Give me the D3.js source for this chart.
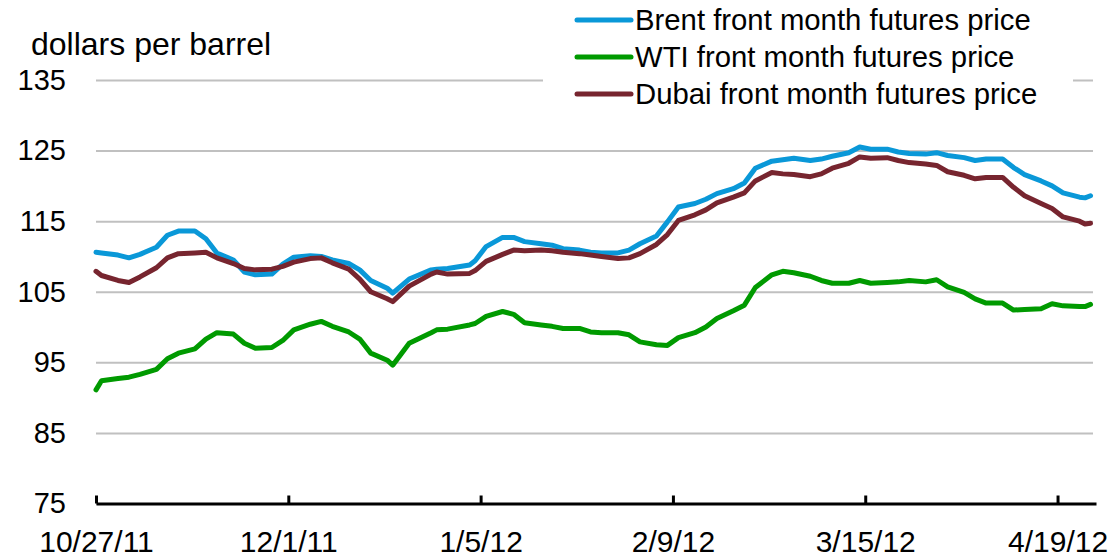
<!DOCTYPE html>
<html>
<head>
<meta charset="utf-8">
<script src="https://cdn.jsdelivr.net/npm/d3@7"></script>
<style>
  body { margin: 0; background: #fff; }
  svg { display: block; font-family: "Liberation Sans", Arial, sans-serif; }
</style>
</head>
<body>
<div id="chart"></div>
<script>
// dates of the readings (m/d/yy)
var dates = ["10/27/11","10/28/11","10/31/11","11/2/11","11/4/11","11/7/11","11/9/11","11/11/11","11/14/11","11/16/11",
  "11/18/11","11/21/11","11/23/11","11/25/11","11/28/11","11/30/11","12/2/11","12/5/11","12/7/11","12/9/11",
  "12/12/11","12/14/11","12/16/11","12/19/11","12/20/11","12/23/11","12/27/11","12/28/11","12/30/11","1/3/12",
  "1/4/12","1/6/12","1/9/12","1/11/12","1/13/12","1/16/12","1/18/12","1/20/12","1/23/12","1/25/12",
  "1/27/12","1/30/12","2/1/12","2/3/12","2/6/12","2/8/12","2/10/12","2/13/12","2/15/12","2/17/12",
  "2/20/12","2/22/12","2/24/12","2/27/12","2/29/12","3/2/12","3/5/12","3/7/12","3/9/12","3/12/12",
  "3/14/12","3/16/12","3/19/12","3/21/12","3/23/12","3/26/12","3/28/12","3/30/12","4/2/12","4/4/12",
  "4/6/12","4/9/12","4/11/12","4/13/12","4/16/12","4/18/12","4/20/12","4/23/12","4/24/12","4/25/12"];

var brent = [110.6,110.5,110.2,109.8,110.3,111.3,113.0,113.6,113.6,112.5,
  110.5,109.5,107.8,107.4,107.5,108.9,109.9,110.1,110.0,109.5,
  109.0,108.1,106.6,105.5,104.8,106.8,108.1,108.2,108.3,108.8,
  109.4,111.4,112.7,112.7,112.1,111.8,111.6,111.1,110.9,110.6,
  110.5,110.5,110.9,111.8,112.9,114.9,117.0,117.5,118.1,118.9,
  119.6,120.4,122.5,123.5,123.7,123.9,123.6,123.8,124.2,124.7,
  125.5,125.2,125.2,124.8,124.6,124.5,124.7,124.3,124.0,123.6,
  123.8,123.8,122.6,121.6,120.7,120.0,119.0,118.4,118.3,118.6];

var wti = [91.1,92.4,92.7,92.9,93.3,94.0,95.5,96.3,96.9,98.3,
  99.2,99.0,97.7,97.0,97.1,98.1,99.6,100.4,100.8,100.1,
  99.3,98.3,96.3,95.3,94.6,97.7,99.2,99.6,99.7,100.3,
  100.5,101.5,102.2,101.8,100.6,100.3,100.1,99.8,99.8,99.3,
  99.2,99.2,98.9,97.9,97.5,97.4,98.5,99.2,100.0,101.2,
  102.3,103.1,105.6,107.4,107.9,107.7,107.2,106.6,106.2,106.2,
  106.6,106.2,106.3,106.4,106.6,106.4,106.7,105.7,104.9,104.0,
  103.4,103.4,102.4,102.5,102.6,103.3,103.0,102.9,102.9,103.2];

var dubai = [107.9,107.3,106.6,106.3,107.1,108.4,109.8,110.4,110.5,110.6,
  109.8,109.0,108.3,108.1,108.2,108.6,109.2,109.7,109.8,109.1,
  108.2,106.8,105.0,104.0,103.6,105.8,107.5,107.8,107.5,107.6,
  108.0,109.3,110.3,110.9,110.8,110.9,110.8,110.6,110.4,110.2,
  110.0,109.7,109.8,110.4,111.7,113.1,115.1,115.9,116.6,117.6,
  118.4,119.0,120.7,121.9,121.7,121.6,121.3,121.7,122.5,123.2,
  124.1,123.9,124.0,123.6,123.3,123.1,122.9,122.0,121.5,121.0,
  121.2,121.2,119.8,118.6,117.5,116.8,115.6,115.0,114.6,114.7];

var seriesNames = ["Brent front month futures price", "WTI front month futures price", "Dubai front month futures price"];
var seriesColors = ["#0a98d8", "#009a00", "#77252f"];
var xTickLabels = ["10/27/11", "12/1/11", "1/5/12", "2/9/12", "3/15/12", "4/19/12"];
var yTicks = [75, 85, 95, 105, 115, 125, 135];

var svgWidth = 1120;
var svgHeight = 560;

var parse = d3.utcParse("%m/%d/%y");
var fmt = d3.utcFormat("%-m/%-d/%y");

var svg = d3.select("#chart").append("svg")
  .attr("width", svgWidth)
  .attr("height", svgHeight);

// scales
var xScale = d3.scaleUtc()
  .domain([parse("10/27/11"), parse("4/26/12")])
  .range([96, 1096]);

var yScale = d3.scaleLinear()
  .domain([75, 135])
  .range([503.5, 80]);

// gridlines + y labels
var yAxis = svg.append("g")
  .attr("transform", "translate(96,0)")
  .call(d3.axisLeft(yScale).tickValues(yTicks).tickSize(-997).tickPadding(30));
yAxis.select(".domain").remove();
yAxis.selectAll("line").attr("stroke", "#c0c0c0").attr("stroke-width", 2);
yAxis.selectAll("text")
  .attr("fill", "#000")
  .style("font-size", "29px")
  .style("font-family", "'Liberation Sans', Arial, sans-serif");

// title
svg.append("text")
  .attr("x", 31)
  .attr("y", 55)
  .style("font-size", "32px")
  .text("dollars per barrel");

// legend box hides the top gridline
svg.append("rect")
  .attr("x", 543).attr("y", 0)
  .attr("width", 530).attr("height", 112)
  .attr("fill", "#fff");

// lines
var allSeries = [brent, wti, dubai];
var line = d3.line()
  .x(function(d, i) { return xScale(parse(dates[i])); })
  .y(function(d) { return yScale(d); });

allSeries.forEach(function(vals, k) {
  svg.append("path")
    .datum(vals)
    .attr("fill", "none")
    .attr("stroke", seriesColors[k])
    .attr("stroke-width", 5)
    .attr("stroke-linejoin", "round")
    .attr("stroke-linecap", "round")
    .attr("d", line);
});

// x axis
var xAxis = svg.append("g")
  .attr("transform", "translate(0," + yScale(75) + ")")
  .call(d3.axisBottom(xScale)
    .tickValues(xTickLabels.map(parse))
    .tickFormat(fmt)
    .tickSize(-8)
    .tickSizeOuter(0)
    .tickPadding(27));
xAxis.select(".domain").attr("stroke", "#000").attr("stroke-width", 3);
xAxis.selectAll("line").attr("stroke", "#000").attr("stroke-width", 3);
xAxis.selectAll("text")
  .attr("fill", "#000")
  .style("font-size", "30px")
  .style("font-family", "'Liberation Sans', Arial, sans-serif");

// legend
var legend = svg.append("g");
seriesNames.forEach(function(name, k) {
  var ly = 20 + k * 37;
  legend.append("line")
    .attr("x1", 577).attr("x2", 631)
    .attr("y1", ly).attr("y2", ly)
    .attr("stroke", seriesColors[k])
    .attr("stroke-width", 5)
    .attr("stroke-linecap", "round");
  legend.append("text")
    .attr("x", 635)
    .attr("y", ly + 10)
    .style("font-size", "29.3px")
    .text(name);
});
</script>
</body>
</html>
